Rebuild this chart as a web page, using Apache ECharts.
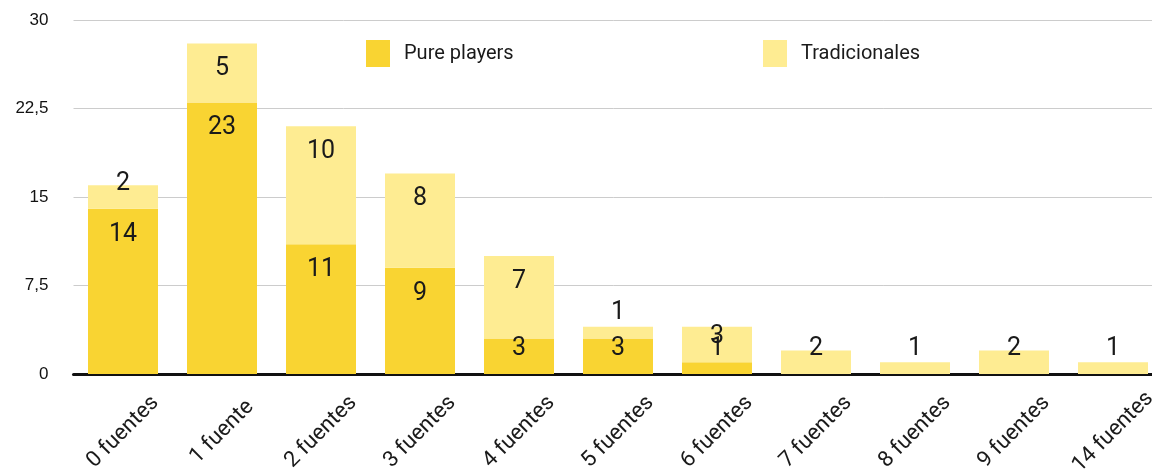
<!DOCTYPE html>
<html>
<head>
<meta charset="utf-8">
<script src="https://cdn.jsdelivr.net/npm/echarts@6/dist/echarts.min.js"></script>
<style>
html,body{margin:0;padding:0;background:#fff;}
#chart{width:1152px;height:471px;}
</style>
</head>
<body>
<div id="chart"></div>
<script>
const categories = ['0 fuentes','1 fuente','2 fuentes','3 fuentes','4 fuentes','5 fuentes','6 fuentes','7 fuentes','8 fuentes','9 fuentes','14 fuentes'];
const purePlayers = [14,23,11,9,3,3,1,0,0,0,0];
const tradicionales = [2,5,10,8,7,1,3,2,1,2,1];
const yTicks = [0, 7.5, 15, 22.5, 30];

const COND = 'Roboto, "DejaVu Sans Condensed", sans-serif';

function labeled(values) {
  return values.map(v => ({
    value: v,
    label: {
      show: v > 0,
      position: v >= 5 ? 'insideTop' : 'insideBottom',
      distance: 13
    }
  }));
}

const chart = echarts.init(document.getElementById('chart'), null, {renderer: 'canvas'});
chart.setOption({
  animation: false,
  backgroundColor: '#ffffff',
  grid: {left: 73.5, top: 20, width: 1089, height: 354, containLabel: false, outerBoundsMode: 'none'},
  legend: [
    {data: ['Pure players'], left: 366, top: 40, padding: 0, itemWidth: 24, itemHeight: 27,
     textStyle: {fontFamily: COND, fontSize: 20, color: '#1a1a1a', padding: [0, 0, 0, 9]}, icon: 'rect'},
    {data: ['Tradicionales'], left: 763, top: 40, padding: 0, itemWidth: 24, itemHeight: 27,
     textStyle: {fontFamily: COND, fontSize: 20, color: '#1a1a1a', padding: [0, 0, 0, 9]}, icon: 'rect'}
  ],
  xAxis: {
    type: 'category',
    data: categories,
    axisLine: {show: true, lineStyle: {color: '#111', width: 3}},
    axisTick: {show: false},
    axisLabel: {
      interval: 0, rotate: 45, margin: 58,
      align: 'center', verticalAlign: 'middle',
      fontFamily: COND, fontSize: 22, color: '#1a1a1a', hideOverlap: false
    }
  },
  yAxis: {
    type: 'value',
    min: yTicks[0], max: yTicks[yTicks.length - 1], interval: 7.5,
    axisLine: {show: false},
    axisTick: {show: false},
    splitLine: {lineStyle: {color: '#cccccc', width: 1}},
    axisLabel: {
      margin: 25, fontFamily: '"Liberation Sans", Arial, sans-serif', fontSize: 17, color: '#111',
      padding: [6, 0, 0, 0],
      formatter: v => String(v).replace('.', ',')
    }
  },
  series: [
    {
      name: 'Pure players', type: 'bar', stack: 'total', barWidth: 70,
      itemStyle: {color: '#F9D432'},
      label: {fontFamily: COND, fontSize: 25, color: '#1a1a1a'},
      data: labeled(purePlayers)
    },
    {
      name: 'Tradicionales', type: 'bar', stack: 'total', barWidth: 70,
      itemStyle: {color: '#FEEC92'},
      label: {fontFamily: COND, fontSize: 25, color: '#1a1a1a'},
      data: labeled(tradicionales)
    }
  ]
});
</script>
</body>
</html>
